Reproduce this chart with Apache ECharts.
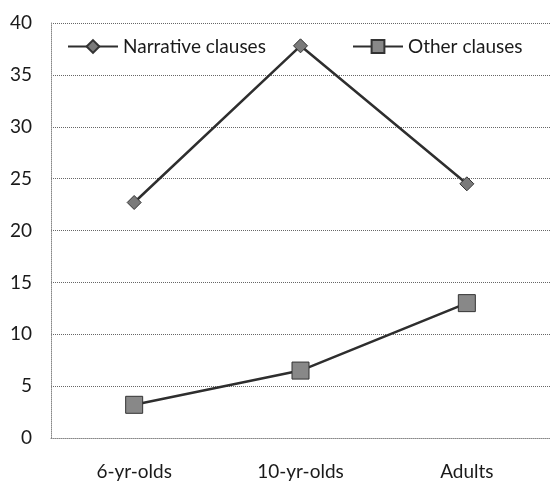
<!DOCTYPE html>
<html><head><meta charset="utf-8">
<script src="https://cdn.jsdelivr.net/npm/echarts@6/dist/echarts.min.js"></script>
<style>html,body{margin:0;padding:0;background:#fff}#c{width:550px;height:483px}</style>
</head><body><div id="c"></div>
<script>
const categories = ['6-yr-olds', '10-yr-olds', 'Adults'];
const narrative = [22.7, 37.8, 24.5];
const other = [3.2, 6.5, 13.0];
const yTicks = [0, 5, 10, 15, 20, 25, 30, 35, 40];

const FONT = 'Lato';
const legendText = { fontFamily: FONT, fontSize: 19, color: '#1a1a1a' };
const chart = echarts.init(document.getElementById('c'));
chart.setOption({
  animation: false,
  backgroundColor: '#fff',
  textStyle: { fontFamily: FONT },
  legend: [
    { top: 32, left: 62, itemWidth: 50, itemHeight: 16, itemGap: 4, textStyle: legendText, data: ['Narrative clauses'] },
    { top: 32, left: 347, itemWidth: 50, itemHeight: 16, itemGap: 4, textStyle: legendText, data: ['Other clauses'] }
  ],
  grid: { left: 51, top: 23, width: 501, bottom: 45, containLabel: false },
  xAxis: {
    type: 'category',
    data: categories,
    boundaryGap: true,
    axisLine: { show: true, lineStyle: { color: '#888', type: 'dotted', width: 1 } },
    axisTick: { show: false },
    axisLabel: { fontSize: 19, color: '#1a1a1a', margin: 24, fontFamily: FONT }
  },
  yAxis: {
    type: 'value',
    min: yTicks[0],
    max: yTicks[yTicks.length - 1],
    interval: 5,
    axisLine: { show: true, lineStyle: { color: '#888', type: 'dotted', width: 1 } },
    axisTick: { show: false },
    axisLabel: { fontSize: 19, color: '#1a1a1a', margin: 19, fontFamily: FONT },
    splitLine: { show: true, lineStyle: { color: '#666', type: 'dotted', width: 1 } }
  },
  series: [
    {
      name: 'Narrative clauses',
      type: 'line',
      data: narrative,
      symbol: 'diamond',
      symbolSize: 14,
      lineStyle: { color: '#2e2e2e', width: 2.5 },
      itemStyle: { color: '#7a7a7a', borderColor: '#333', borderWidth: 1 }
    },
    {
      name: 'Other clauses',
      type: 'line',
      data: other,
      symbol: 'rect',
      symbolSize: 17,
      lineStyle: { color: '#2e2e2e', width: 2.5 },
      itemStyle: { color: '#888', borderColor: '#333', borderWidth: 1 }
    }
  ]
});
</script></body></html>
